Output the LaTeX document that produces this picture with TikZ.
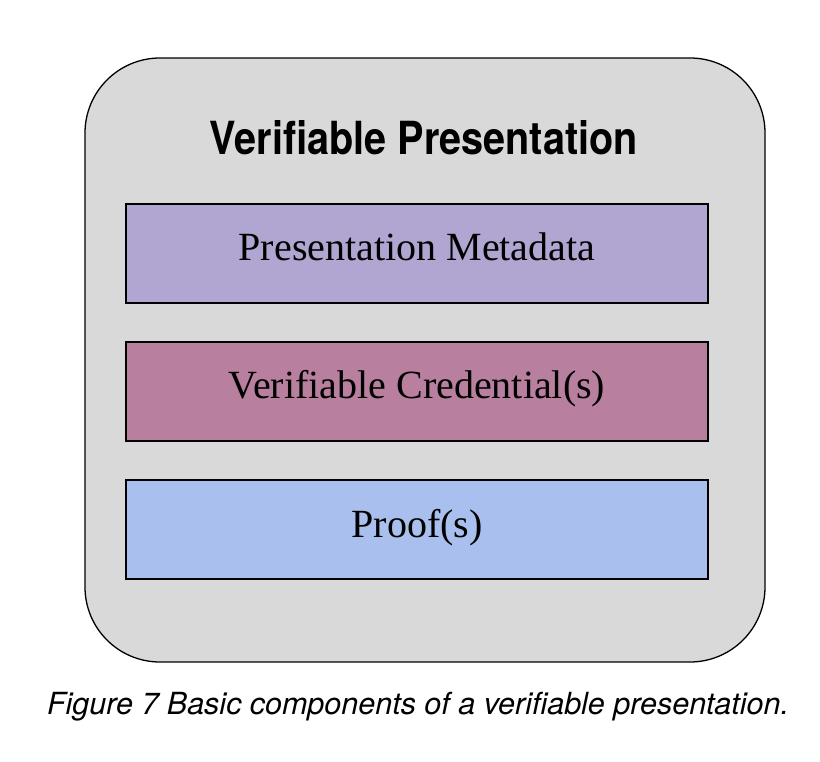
\documentclass[tikz,border=0pt]{standalone}
\usepackage{fontspec}
\setmainfont{Liberation Serif}
\setsansfont{TeX Gyre Heros}
\usepackage{graphicx}
\definecolor{outerfill}{HTML}{D9D9D9}
\definecolor{metafill}{HTML}{B1A6D2}
\definecolor{credfill}{HTML}{B87F9E}
\definecolor{prooffill}{HTML}{A9C0EE}
\tikzset{
  part/.style={draw=black, line width=1.5pt, minimum width=582pt, minimum height=99pt, inner sep=0pt, text height=27pt, text depth=12pt, font=\fontsize{40}{46}\selectfont},
}
\begin{document}
\begin{tikzpicture}[x=1pt,y=-1pt]
\useasboundingbox (0,0) rectangle (820,762);
\fill[white] (0,0) rectangle (820,762);
\draw[fill=outerfill, line width=1.3pt, rounded corners=75pt] (85,58) rectangle (765,662);
\node[font=\sffamily\bfseries, inner sep=0pt, anchor=base] (title) at (424,155) {\resizebox{428pt}{34pt}{Verifiable Presentation}};
\node[part, fill=metafill] (meta) at (417,253.5) {Presentation Metadata};
\node[part, fill=credfill] (cred) at (417,391.5) {Verifiable Credential(s)};
\node[part, fill=prooffill] (proof) at (417,529.5) {Proof(s)};
\node[font=\sffamily\itshape\fontsize{30.5}{34}\selectfont, inner sep=0pt] (cap) at (418,707) {Figure 7 Basic components of a verifiable presentation.};
\end{tikzpicture}
\end{document}
